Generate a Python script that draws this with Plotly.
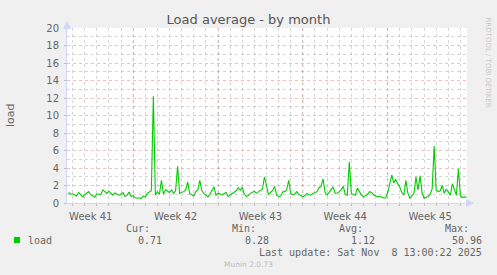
import pandas as pd
import plotly.graph_objects as go

# ---------------- data ----------------
sample_start = "2025-10-06 16:00"   # first 4-hourly sample
sample_step = "4h"
load = [
    1.2, 1.0, 1.05, 0.95, 0.8, 1.2, 1.0, 0.7, 0.95, 1.15,
    1.3, 0.95, 0.75, 0.65, 1.05, 1.0, 0.95, 1.5, 1.25, 1.1,
    1.35, 1.1, 0.9, 1.15, 1.05, 0.9, 1.0, 1.2, 0.75, 0.9,
    1.25, 0.75, 0.85, 0.6, 0.55, 0.6, 0.5, 0.8, 0.7, 1.1,
    1.25, 1.4, 12.2, 0.9, 1.3, 1.0, 2.6, 1.0, 1.5, 1.3,
    1.2, 1.5, 1.1, 1.4, 4.2, 1.1, 1.2, 1.3, 1.5, 2.4,
    1.1, 0.9, 0.8, 1.3, 1.5, 2.6, 1.4, 1.1, 0.9, 0.7,
    1.0, 1.4, 1.85, 0.9, 1.1, 1.05, 0.9, 1.1, 1.2, 0.75,
    0.9, 1.1, 1.2, 1.4, 1.75, 1.45, 1.8, 1.0, 0.75, 0.85,
    1.1, 1.25, 1.35, 1.1, 1.25, 1.4, 1.6, 3.0, 1.8, 0.95,
    1.2, 1.4, 1.9, 0.9, 0.75, 0.8, 1.25, 1.3, 1.5, 2.6,
    1.1, 0.9, 1.05, 1.3, 1.0, 0.85, 0.7, 0.85, 1.1, 0.95,
    0.9, 1.1, 1.2, 1.3, 1.75, 1.9, 2.75, 1.2, 0.9, 1.2,
    1.6, 1.85, 1.1, 1.15, 1.3, 1.5, 1.9, 1.0, 0.9, 4.7,
    1.1, 0.95, 0.9, 1.7, 1.2, 0.9, 0.7, 0.85, 1.0, 1.3,
    1.2, 0.95, 0.85, 0.7, 0.75, 0.7, 0.55, 0.6, 1.2, 2.2,
    3.2, 2.3, 2.7, 2.2, 1.8, 1.2, 0.9, 2.6, 1.1, 0.55,
    0.8, 1.1, 3.0, 1.5, 3.1, 1.2, 0.55, 0.65, 0.75, 1.0,
    1.6, 6.5, 1.5, 1.3, 1.4, 2.0, 1.1, 1.6, 1.3, 0.9,
    2.2, 1.6, 0.9, 3.9, 0.8, 0.65, 0.7, 0.7,
]
x_range = ["2025-10-06 13:00", "2025-11-08 13:00"]
week_starts = ["2025-10-12", "2025-10-19", "2025-10-26", "2025-11-02"]
week_label_pos = ["2025-10-08 12:00", "2025-10-15 12:00", "2025-10-22 12:00",
                  "2025-10-29 12:00", "2025-11-05 12:00"]
week_labels = ["Week 41", "Week 42", "Week 43", "Week 44", "Week 45"]
stat_names = ["Cur:", "Min:", "Avg:", "Max:"]
stat_values = ["0.71", "0.28", "1.12", "50.96"]
series_name = "load"
title_text = "Load average - by month"
last_update = "Last update: Sat Nov \u00a08 13:00:22 2025"
footer = "Munin 2.0.73"
watermark = "RRDTOOL / TOBI OETIKER"

times = pd.date_range(sample_start, periods=len(load), freq=sample_step)

# ---------------- layout constants ----------------
W, H = 497, 275
L, R, T, B = 67, 30, 28, 72
PW, PH = W - L - R, H - T - B
FONT = "#666666"
AXIS = "#CFD6F8"
GREEN = "#00CC00"
MGRID = "rgba(230,80,80,0.38)"
GRID = "rgba(150,150,150,0.4)"


def px(xp):
    return (xp - L) / PW


def py(yp):
    return (H - B - yp) / PH


fig = go.Figure()
fig.add_trace(go.Scatter(x=times, y=load, mode="lines", name=series_name,
                         line=dict(color=GREEN, width=1.1), showlegend=False))

shapes = []
for ws in week_starts:
    shapes.append(dict(type="line", xref="x", yref="y", x0=ws, x1=ws, y0=-0.25, y1=20,
                       line=dict(color=MGRID, width=1, dash="dot"), layer="below"))
# legend swatch
shapes.append(dict(type="rect", xref="paper", yref="paper",
                   x0=px(14), x1=px(20), y0=py(243), y1=py(237),
                   fillcolor=GREEN, line=dict(width=0)))

mono = dict(family="DejaVu Sans Mono", size=10, color=FONT)
ann = []
header_right = [150.5, 257, 363.5, 470]
value_right = [163, 269.5, 376, 482.5]
for name, val, hx, vx in zip(stat_names, stat_values, header_right, value_right):
    ann.append(dict(text=name, x=px(hx), y=py(228), xref="paper", yref="paper",
                    xanchor="right", yanchor="middle", showarrow=False, font=mono, borderpad=0))
    ann.append(dict(text=val, x=px(vx), y=py(240), xref="paper", yref="paper",
                    xanchor="right", yanchor="middle", showarrow=False, font=mono, borderpad=0))
ann.append(dict(text=series_name, x=px(26.5), y=py(240), xref="paper", yref="paper",
                xanchor="left", yanchor="middle", showarrow=False, font=mono, borderpad=0))
ann.append(dict(text=last_update, x=px(482.5), y=py(252), xref="paper", yref="paper",
                xanchor="right", yanchor="middle", showarrow=False, font=mono, borderpad=0))
ann.append(dict(text=footer, x=px(248), y=py(264), xref="paper", yref="paper",
                xanchor="center", yanchor="middle", showarrow=False, borderpad=0,
                font=dict(family="DejaVu Sans", size=7.5, color="#BBBBBB")))
ann.append(dict(text=watermark, x=px(487.5), y=py(62), xref="paper", yref="paper",
                xanchor="center", yanchor="middle", showarrow=False, textangle=90, borderpad=0,
                font=dict(family="DejaVu Sans", size=7, color="#C8C8C8")))
ann.append(dict(text="load", x=px(10), y=py(115), xref="paper", yref="paper",
                xanchor="center", yanchor="middle", showarrow=False, textangle=-90, borderpad=0,
                font=dict(family="DejaVu Sans", size=11, color=FONT)))
# axis arrows
ann.append(dict(text="", x=px(474), y=py(203), xref="paper", yref="paper",
                ax=-8, ay=0, showarrow=True, arrowhead=2, arrowsize=1.6, arrowwidth=1,
                arrowcolor=AXIS))
ann.append(dict(text="", x=px(67), y=py(21), xref="paper", yref="paper",
                ax=0, ay=8, showarrow=True, arrowhead=2, arrowsize=1.6, arrowwidth=1,
                arrowcolor=AXIS))

fig.update_layout(
    width=W, height=H,
    margin=dict(l=L, r=R, t=T, b=B, pad=0),
    paper_bgcolor="#F0F0F0", plot_bgcolor="#FFFFFF",
    font=dict(family="DejaVu Sans", size=10, color=FONT),
    title=dict(text=title_text, x=0.5, xanchor="center", y=1 - 19 / H, yanchor="middle",
               font=dict(family="DejaVu Sans", size=13, color="#555555")),
    shapes=shapes, annotations=ann,
    xaxis=dict(type="date", range=x_range, tickmode="array",
               tickvals=week_label_pos, ticktext=week_labels,
               showgrid=False, zeroline=False, showline=True, linecolor=AXIS, linewidth=1,
               ticks="", ticklabelstandoff=4, fixedrange=True,
               minor=dict(tickmode="linear", tick0="2025-10-05", dtick=86400000,
                          showgrid=True, gridcolor=GRID, griddash="dot", gridwidth=1,
                          ticks="outside", ticklen=2, tickcolor="#BBBBBB")),
    yaxis=dict(range=[0, 20], tickmode="linear", tick0=0, dtick=2,
               showgrid=True, gridcolor=MGRID, griddash="dot", gridwidth=1,
               zeroline=False, showline=True, linecolor=AXIS, linewidth=1,
               ticks="outside", ticklen=2, tickcolor="#BBBBBB", ticklabelstandoff=3,
               minor=dict(dtick=1, showgrid=True, gridcolor=GRID, griddash="dot", gridwidth=1)),
)

fig.write_html("out.html")
